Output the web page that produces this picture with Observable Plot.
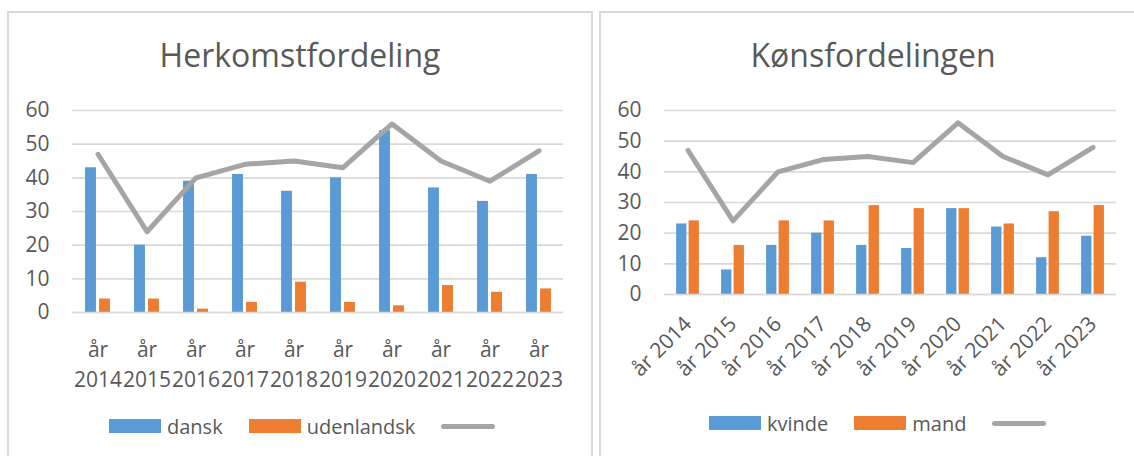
<!DOCTYPE html>
<html><head><meta charset="utf-8">
<script src="https://cdn.jsdelivr.net/npm/d3@7"></script>
<script src="https://cdn.jsdelivr.net/npm/@observablehq/plot@0.6"></script>
<style>
body{margin:0;background:#fff;font-family:"Open Sans",sans-serif;color:#595959;}
#page{position:relative;width:1134px;height:456px;overflow:hidden;background:#fff;}
.panel{position:absolute;border:2px solid #D9D9D9;box-sizing:border-box;}
.title{position:absolute;text-align:center;font-size:32px;line-height:32px;white-space:nowrap;color:#595959;}
.chart{position:absolute;}
.legend{position:absolute;display:flex;align-items:center;font-size:20px;height:28px;white-space:nowrap;color:#595959;}
.sw{display:inline-block;width:52px;height:14px;margin-right:6px;}
.ln{display:inline-block;width:54px;height:5px;border-radius:3px;background:#A5A5A5;}
.gap{display:inline-block;width:26px;}
</style></head>
<body>
<div id="page">
  <div class="panel" style="left:7px;top:11px;width:586px;height:500px;"></div>
  <div class="panel" style="left:599px;top:11px;width:600px;height:500px;"></div>
  <div class="title" id="t1" style="left:7px;width:586px;top:39px;"></div>
  <div class="title" id="t2" style="left:600px;width:546px;top:39px;"></div>
  <div class="chart" id="c1" style="left:7px;top:90px;"></div>
  <div class="chart" id="c2" style="left:600px;top:90px;"></div>
  <div class="legend" id="l1" style="left:109px;top:412px;"></div>
  <div class="legend" id="l2" style="left:709px;top:409px;"></div>
</div>
<script>
// ---- data ----
const years = ["2014","2015","2016","2017","2018","2019","2020","2021","2022","2023"];
const yearPrefix = "år";
const dansk      = [43, 20, 39, 41, 36, 40, 54, 37, 33, 41];
const udenlandsk = [ 4,  4,  1,  3,  9,  3,  2,  8,  6,  7];
const kvinde     = [23,  8, 16, 20, 16, 15, 28, 22, 12, 19];
const mand       = [24, 16, 24, 24, 29, 28, 28, 23, 27, 29];
const total      = [47, 24, 40, 44, 45, 43, 56, 45, 39, 48];
const yTicks = [0, 10, 20, 30, 40, 50, 60];
const title1 = "Herkomstfordeling";
const title2 = "Kønsfordelingen";
const series1 = ["dansk", "udenlandsk"];
const series2 = ["kvinde", "mand"];

const BLUE = "#5B9BD5", ORANGE = "#ED7D31", GRAY = "#A5A5A5", GRID = "#D9D9D9", TEXT = "#595959";

const rows = years.map((y, i) => ({
  year: y, dansk: dansk[i], udenlandsk: udenlandsk[i],
  kvinde: kvinde[i], mand: mand[i], total: total[i]
}));

function makeChart({width, height, ml, mr, mt, mb, barW, gap, keys, xAxis}) {
  const bw = (width - ml - mr) / years.length;
  const half = gap / 2;
  return Plot.plot({
    width, height,
    marginLeft: ml, marginRight: mr, marginTop: mt, marginBottom: mb,
    style: {fontFamily: "Open Sans", fontSize: "21px", color: TEXT, background: "transparent", overflow: "visible"},
    x: {type: "band", domain: years, padding: 0, axis: null, label: null},
    y: {domain: [0, 60], axis: null, label: null},
    marks: [
      Plot.gridY(yTicks, {stroke: GRID, strokeOpacity: 1, strokeWidth: 1.6}),
      Plot.axisY(yTicks, {tickSize: 0, tickPadding: 23, fill: TEXT, fontSize: 21, label: null}),
      Plot.barY(rows, {x: "year", y: keys[0], fill: BLUE,
        insetLeft: bw / 2 - half - barW, insetRight: bw / 2 + half}),
      Plot.barY(rows, {x: "year", y: keys[1], fill: ORANGE,
        insetLeft: bw / 2 + half, insetRight: bw / 2 - half - barW}),
      Plot.ruleY([0], {stroke: GRID, strokeWidth: 1.6}),
      Plot.line(rows, {x: "year", y: "total", stroke: GRAY, strokeWidth: 5,
        strokeLinejoin: "round", strokeLinecap: "round"}),
      xAxis
    ]
  });
}

const chart1 = makeChart({
  width: 585, height: 320, ml: 65, mr: 29, mt: 20, mb: 98,
  barW: 11, gap: 3, keys: series1,
  xAxis: Plot.axisX(years, {tickSize: 0, tickPadding: 23, lineHeight: 1.43, fill: TEXT, fontSize: 21, label: null,
    tickFormat: d => yearPrefix + "\n" + d})
});
const chart2 = makeChart({
  width: 534, height: 330, ml: 64, mr: 18, mt: 20, mb: 126,
  barW: 10.5, gap: 2, keys: series2,
  xAxis: Plot.axisX(years, {tickSize: 0, tickPadding: 26, tickRotate: -45, fill: TEXT, fontSize: 21, label: null,
    tickFormat: d => yearPrefix + " " + d})
});
document.getElementById("c1").appendChild(chart1);
document.getElementById("c2").appendChild(chart2);
document.getElementById("t1").textContent = title1;
document.getElementById("t2").textContent = title2;

function legend(el, names) {
  const colors = [BLUE, ORANGE];
  names.forEach((n, i) => {
    const s = document.createElement("span"); s.className = "sw"; s.style.background = colors[i];
    const t = document.createElement("span"); t.textContent = n;
    const g = document.createElement("span"); g.className = "gap";
    el.append(s, t, g);
  });
  const l = document.createElement("span"); l.className = "ln"; el.append(l);
}
legend(document.getElementById("l1"), series1);
legend(document.getElementById("l2"), series2);
</script>
</body></html>
